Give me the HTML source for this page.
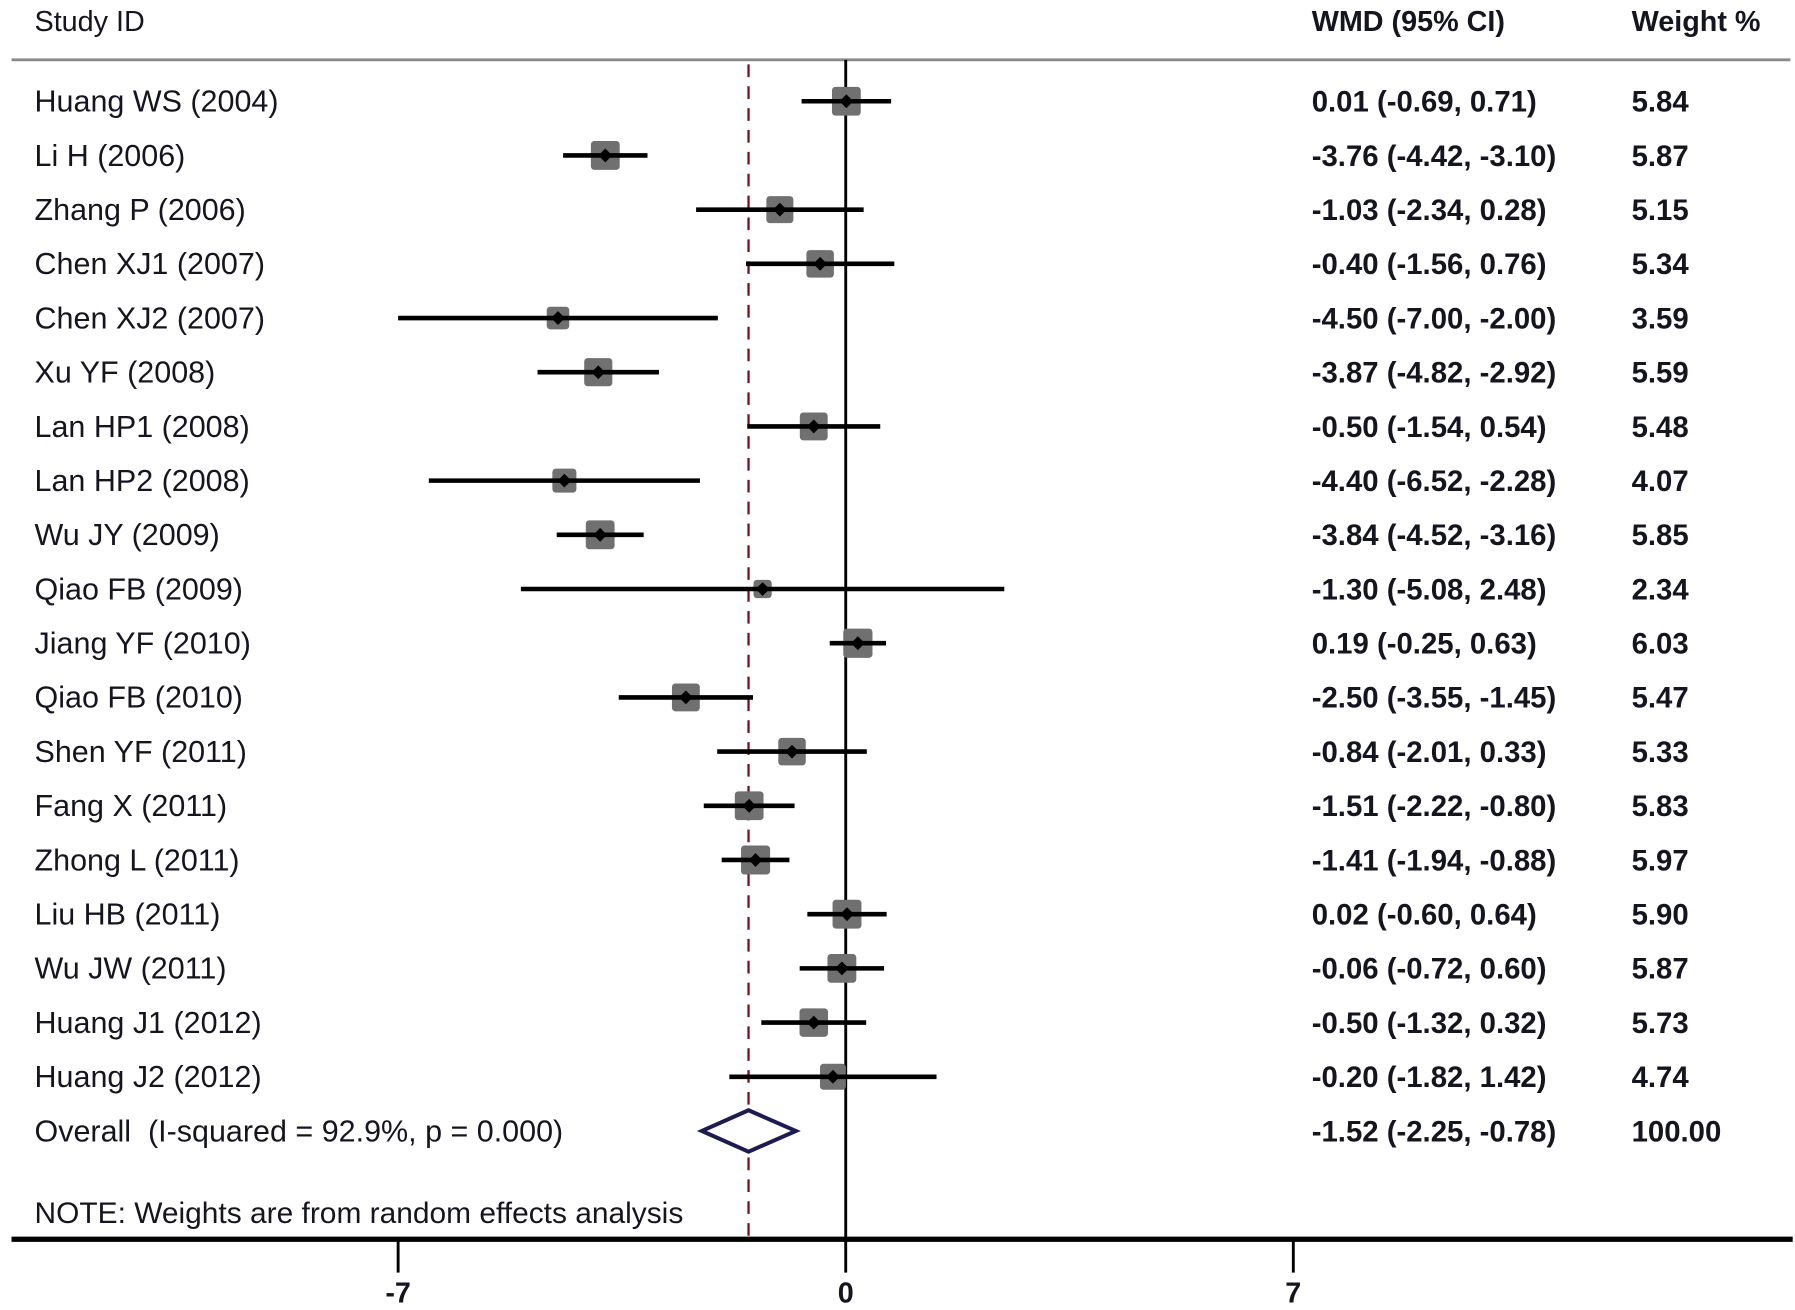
<!DOCTYPE html>
<html><head><meta charset="utf-8"><style>
html,body{margin:0;padding:0;background:#fff}
svg{display:block}
text{font-family:"Liberation Sans",Arial,sans-serif;fill:#15151f;white-space:pre}
</style></head><body>
<svg id="chart" width="1795" height="1310" viewBox="0 0 1560 1138.5" preserveAspectRatio="none" xmlns="http://www.w3.org/2000/svg">
<text x="30" y="27" font-size="25">Study ID</text>
<text x="1140" y="27" font-size="25" font-weight="bold">WMD (95% CI)</text>
<text x="1418" y="27" font-size="25" font-weight="bold">Weight %</text>
<line x1="10" y1="52" x2="1556" y2="52" stroke="#8a8a8a" stroke-width="2.5"/>
<g id="marks"></g>
<text x="30" y="1063" font-size="26">NOTE: Weights are from random effects analysis</text>
</svg>
<script>
const studies=["Huang WS (2004)","Li H (2006)","Zhang P (2006)","Chen XJ1 (2007)","Chen XJ2 (2007)","Xu YF (2008)","Lan HP1 (2008)","Lan HP2 (2008)","Wu JY (2009)","Qiao FB (2009)","Jiang YF (2010)","Qiao FB (2010)","Shen YF (2011)","Fang X (2011)","Zhong L (2011)","Liu HB (2011)","Wu JW (2011)","Huang J1 (2012)","Huang J2 (2012)"];
const est=[0.01,-3.76,-1.03,-0.40,-4.50,-3.87,-0.50,-4.40,-3.84,-1.30,0.19,-2.50,-0.84,-1.51,-1.41,0.02,-0.06,-0.50,-0.20];
const lo=[-0.69,-4.42,-2.34,-1.56,-7.00,-4.82,-1.54,-6.52,-4.52,-5.08,-0.25,-3.55,-2.01,-2.22,-1.94,-0.60,-0.72,-1.32,-1.82];
const hi=[0.71,-3.10,0.28,0.76,-2.00,-2.92,0.54,-2.28,-3.16,2.48,0.63,-1.45,0.33,-0.80,-0.88,0.64,0.60,0.32,1.42];
const weights=["5.84","5.87","5.15","5.34","3.59","5.59","5.48","4.07","5.85","2.34","6.03","5.47","5.33","5.83","5.97","5.90","5.87","5.73","4.74"];
const overall=[-1.52,-2.25,-0.78];
const overallLabel="Overall  (I-squared = 92.9%, p = 0.000)";
const ticks=[-7,0,7];
const NS="http://www.w3.org/2000/svg";
const g=document.getElementById('marks');
function X(v){return 735+v*55.57;}
function Y(i){return 88+i*47.1;}
function f(v){return v.toFixed(2);}
function mk(tag,attrs,parent){const e=document.createElementNS(NS,tag);for(const k in attrs)e.setAttribute(k,attrs[k]);(parent||g).appendChild(e);return e;}
const axY=1077;
let l=mk('line',{x1:X(0),y1:52,x2:X(0),y2:axY,stroke:'#000','stroke-width':2.5});


l=mk('line',{x1:X(overall[0]),y1:56,x2:X(overall[0]),y2:axY,stroke:'#7a1020','stroke-width':2,'stroke-dasharray':'11 8'});


studies.forEach((s,i)=>{
  const y=Y(i);
  let t=mk('text',{x:30,y:y+9,'font-size':26.5});t.textContent=s;
  
  
  const w=parseFloat(weights[i]);const sz=25*Math.sqrt(w/5.84);
  let b=mk('rect',{x:X(est[i])-sz/2,y:y-sz/2,width:sz,height:sz,rx:3,fill:'#6f706f'});
  
  
  let c=mk('line',{x1:X(lo[i]),y1:y,x2:X(hi[i]),y2:y,stroke:'#000','stroke-width':4});
  
  
  const px=X(est[i]);
  let p=mk('polygon',{points:`${px-6},${y} ${px},${y-6} ${px+6},${y} ${px},${y+6}`,fill:'#000'});
  
  
  t=mk('text',{x:1140,y:y+9,'font-size':25.5,'font-weight':'bold'});t.textContent=`${f(est[i])} (${f(lo[i])}, ${f(hi[i])})`;
  
  
  t=mk('text',{x:1418,y:y+9,'font-size':25.5,'font-weight':'bold'});t.textContent=weights[i];
  
  
});
const oy=Y(studies.length);
let t=mk('text',{x:30,y:oy+9,'font-size':26.5});t.textContent=overallLabel;


let d=mk('polygon',{points:`${X(overall[1])},${oy} ${X(overall[0])},${oy-18} ${X(overall[2])},${oy} ${X(overall[0])},${oy+18}`,fill:'#fff',stroke:'#1c1c50','stroke-width':3.5});


t=mk('text',{x:1140,y:oy+9,'font-size':25.5,'font-weight':'bold'});t.textContent=`${f(overall[0])} (${f(overall[1])}, ${f(overall[2])})`;


t=mk('text',{x:1418,y:oy+9,'font-size':25.5,'font-weight':'bold'});t.textContent="100.00";


let ax=mk('line',{x1:10,y1:axY,x2:1558,y2:axY,stroke:'#000','stroke-width':4.5});


ticks.forEach(v=>{
  let k=mk('line',{x1:X(v),y1:axY,x2:X(v),y2:axY+29,stroke:'#000','stroke-width':2.5});
  
  
  let tl=mk('text',{x:X(v),y:1132,'font-size':25,'font-weight':'bold','text-anchor':'middle'});tl.textContent=String(v);
  
  
});
</script>
</body></html>
